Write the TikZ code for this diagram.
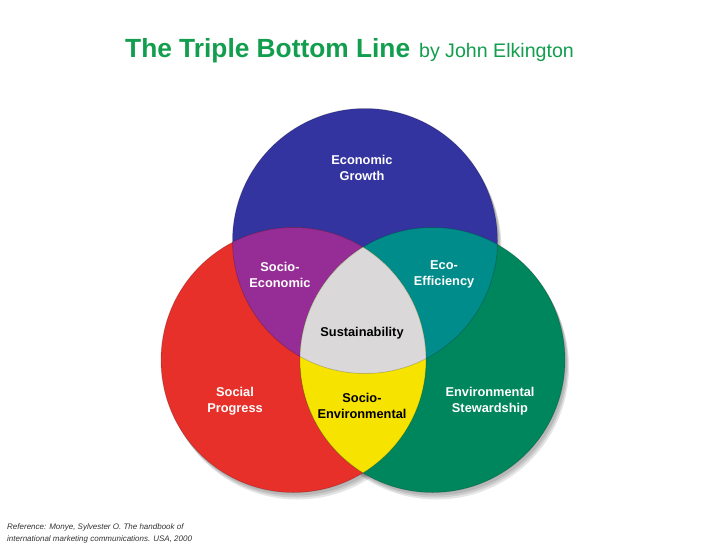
\documentclass[tikz,border=0pt]{standalone}
\usepackage{fontspec}
\setmainfont{Liberation Sans}
\begin{document}
\definecolor{ttl}{RGB}{18,158,78}
\definecolor{cblue}{RGB}{52,52,160}
\definecolor{cred}{RGB}{232,48,42}
\definecolor{cgreen}{RGB}{0,134,92}
\definecolor{cpurple}{RGB}{150,45,150}
\definecolor{cteal}{RGB}{0,140,138}
\definecolor{cgray}{RGB}{218,216,216}
\definecolor{cyellow}{RGB}{246,228,0}
\begin{tikzpicture}[x=1pt,y=-1pt,
  lbl/.style={font=\fontsize{12.8}{16}\selectfont\bfseries, align=center, text=white, inner sep=0pt},
  dlbl/.style={lbl, text=black},
  rim/.style={line width=0.8pt, draw=black, draw opacity=0.18}]
\useasboundingbox (0,0) rectangle (728,546);
\fill[white] (0,0) rectangle (728,546);
\coordinate (B) at (365,241);
\coordinate (R) at (293.5,360);
\coordinate (G) at (432.5,360);
\def\rad{132.5pt}
% soft shadow
\foreach \s in {(2,3),(3,5),(4,7)}{
  \fill[black, opacity=0.10] ([shift={\s}]B) circle (\rad);
  \fill[black, opacity=0.10] ([shift={\s}]R) circle (\rad);
  \fill[black, opacity=0.10] ([shift={\s}]G) circle (\rad);
}
% base circles
\fill[cblue] (B) circle (\rad);
\fill[cred] (R) circle (\rad);
\fill[cgreen] (G) circle (\rad);
% pairwise overlaps
\begin{scope}
  \clip (B) circle (\rad);
  \fill[cpurple] (R) circle (\rad);
  \fill[cteal] (G) circle (\rad);
\end{scope}
\begin{scope}
  \clip (R) circle (\rad);
  \fill[cyellow] (G) circle (\rad);
  \clip (G) circle (\rad);
  \fill[cgray] (B) circle (\rad);
\end{scope}
% rims
\draw[rim] (B) circle (\rad);
\draw[rim] (R) circle (\rad);
\draw[rim] (G) circle (\rad);
% title
\node[anchor=base west, inner sep=0pt, text=ttl] (title) at (125,57)
  {{\fontsize{26.3}{30}\selectfont\bfseries The Triple Bottom Line}\hspace{9pt}{\fontsize{19.6}{24}\selectfont by John Elkington}};
% labels
\node[lbl] (econ) at (362,168) {Economic\\Growth};
\node[lbl] (soceco) at (280,275) {Socio-\\Economic};
\node[lbl] (ecoeff) at (444,274) {Eco-\\Efficiency};
\node[dlbl] (sust) at (362,333) {Sustainability};
\node[lbl] (social) at (235,401) {Social\\Progress};
\node[dlbl] (socenv) at (362,406) {Socio-\\Environmental};
\node[lbl] (envst) at (490,401) {Environmental\\Stewardship};
% reference
\node[anchor=north west, align=left, inner sep=0pt, text=black!80,
  font=\fontsize{8}{12}\selectfont\itshape] (ref) at (7,523)
  {Reference: Monye, Sylvester O. The handbook of\\international marketing communications. USA, 2000};
\end{tikzpicture}
\end{document}
